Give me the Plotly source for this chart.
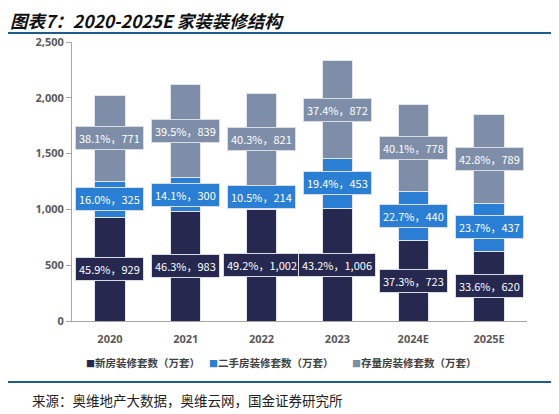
import plotly.graph_objects as go

years = ['2020', '2021', '2022', '2023', '2024E', '2025E']
new_house = [929, 983, 1002, 1006, 723, 620]
second_hand = [325, 300, 214, 453, 440, 437]
stock = [771, 839, 821, 872, 778, 789]
new_pct = ['45.9%', '46.3%', '49.2%', '43.2%', '37.3%', '33.6%']
second_pct = ['16.0%', '14.1%', '10.5%', '19.4%', '22.7%', '23.7%']
stock_pct = ['38.1%', '39.5%', '40.3%', '37.4%', '40.1%', '42.8%']

names = ['新房装修套数（万套）', '二手房装修套数（万套）', '存量房装修套数（万套）']
colors = ['#262850', '#2A7FD4', '#7F8EA8']
series = [new_house, second_hand, stock]
pcts = [new_pct, second_pct, stock_pct]

font_cn = 'Noto Sans CJK SC'
xpos = list(range(len(years)))

fig = go.Figure()
for name, vals, col in zip(names, series, colors):
    fig.add_trace(go.Bar(x=xpos, y=vals, name=name, width=0.4, showlegend=False,
                         marker=dict(color=col, line=dict(color='#E3E6EC', width=1))))

# value boxes centred in each segment
annotations = []
base = [0] * len(years)
for vals, pc, col in zip(series, pcts, colors):
    for i in xpos:
        mid = base[i] + vals[i] / 2
        annotations.append(dict(
            x=i, y=mid, xref='x', yref='y', showarrow=False,
            text=f'{pc[i]}，{vals[i]:,}',
            font=dict(family=font_cn, size=11, color='white'),
            bgcolor=col, bordercolor='#D9DDE3', borderwidth=1, borderpad=3))
        base[i] += vals[i]

# legend drawn as text so the spacing matches
legend_x = [0.0264, 0.2967, 0.611]
for lx, name, col in zip(legend_x, names, colors):
    annotations.append(dict(
        x=lx, y=-0.1505, xref='paper', yref='paper', xanchor='left', yanchor='middle',
        showarrow=False,
        text=f'<span style="color:{col};font-size:9px">■</span>{name}',
        font=dict(family=font_cn, size=10.5, color='#404040', weight='bold')))

annotations.append(dict(
    x=-0.1407, y=1.0753, xref='paper', yref='paper', xanchor='left', yanchor='middle',
    showarrow=False, text='图表7：2020-2025E 家装装修结构',
    font=dict(family=font_cn, size=17.5, color='#111111', style='italic', weight='bold')))
annotations.append(dict(
    x=-0.0923, y=-0.283, xref='paper', yref='paper', xanchor='left', yanchor='middle',
    showarrow=False, text='来源：奥维地产大数据，奥维云网，国金证券研究所',
    font=dict(family=font_cn, size=13.5, color='#222222')))

shapes = [
    dict(type='line', xref='paper', yref='paper', x0=-0.147, x1=1.057, y0=1.0323, y1=1.0323,
         line=dict(color='#1F5C8A', width=2)),
    dict(type='line', xref='paper', yref='paper', x0=-0.147, x1=1.057, y0=-0.2186, y1=-0.2186,
         line=dict(color='#1F5C8A', width=2)),
]

# the page adds an 8px body margin, so the figure is 8px smaller and shifted
fig.update_layout(
    barmode='stack',
    width=551, height=406,
    margin=dict(l=64, r=32, t=34, b=93),
    plot_bgcolor='white', paper_bgcolor='white',
    annotations=annotations, shapes=shapes,
    showlegend=False,
    font=dict(family=font_cn),
)
fig.update_xaxes(range=[-0.5, len(years) - 0.5], tickvals=xpos, ticktext=years,
                 showline=True, linecolor='#A6A6A6', linewidth=1, ticks='', showgrid=False,
                 zeroline=False, ticklabelstandoff=8,
                 tickfont=dict(family='Open Sans', size=11, color='#595959', weight='bold'))
fig.update_yaxes(range=[0, 2500], dtick=500, tickformat=',', showgrid=False, zeroline=False,
                 showline=True, linecolor='#A6A6A6', linewidth=1,
                 ticks='outside', ticklen=5, tickcolor='#A6A6A6',
                 tickfont=dict(family='Open Sans', size=11, color='#595959', weight='bold'))

fig.write_html('out.html')
